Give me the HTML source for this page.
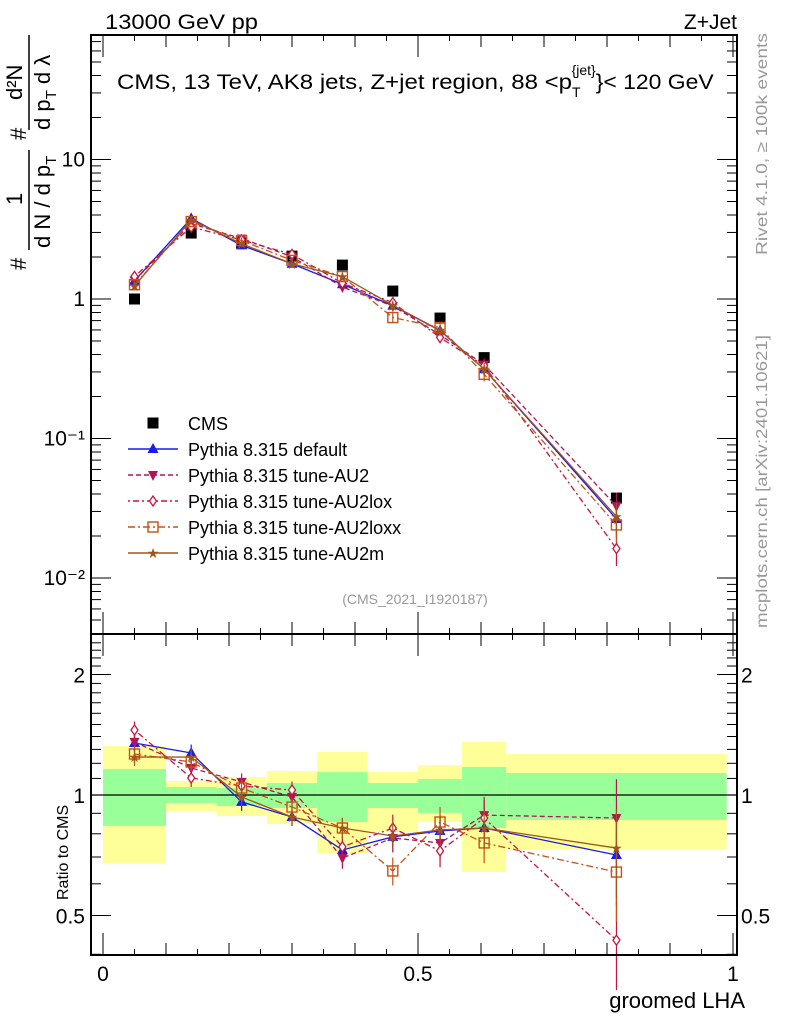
<!DOCTYPE html>
<html><head><meta charset="utf-8"><style>
body{margin:0;background:#fff;}
svg text{font-family:"Liberation Sans","DejaVu Sans",sans-serif;}
</style></head><body>
<svg id="c" width="786" height="1024" viewBox="0 0 786 1024" xmlns="http://www.w3.org/2000/svg">
<g id="bands"></g>
<g id="plot"></g>
<g id="axes"></g>
<text x="105" y="29" font-size="21" textLength="153" lengthAdjust="spacingAndGlyphs">13000 GeV pp</text>
<text x="737" y="29" font-size="21" text-anchor="end">Z+Jet</text>
<text x="117" y="89" font-size="21"><tspan textLength="455" lengthAdjust="spacingAndGlyphs">CMS, 13 TeV, AK8 jets, Z+jet region, 88 &lt;p</tspan><tspan font-size="14" dy="8">T</tspan><tspan font-size="14" dx="-9" dy="-22">{jet}</tspan><tspan dy="14" textLength="118" lengthAdjust="spacingAndGlyphs">}&lt; 120 GeV</tspan></text>
<text x="415" y="604" font-size="14" fill="#999" text-anchor="middle">(CMS_2021_I1920187)</text>
<text transform="translate(767,255) rotate(-90)" font-size="16" fill="#999" textLength="222" lengthAdjust="spacingAndGlyphs">Rivet 4.1.0, ≥ 100k events</text>
<text transform="translate(767,628) rotate(-90)" font-size="16" fill="#999" textLength="293" lengthAdjust="spacingAndGlyphs">mcplots.cern.ch [arXiv:2401.10621]</text>
<g font-size="22">
<text transform="translate(26,270) rotate(-90)">#</text>
<line x1="29" x2="29" y1="150" y2="250" stroke="#000" stroke-width="1.5"/>
<text transform="translate(22,205) rotate(-90)">1</text>
<text transform="translate(50,248) rotate(-90)">d N / d p<tspan font-size="15" dy="6">T</tspan></text>
<text transform="translate(26,140) rotate(-90)">#</text>
<line x1="29" x2="29" y1="35" y2="130" stroke="#000" stroke-width="1.5"/>
<text transform="translate(22,100) rotate(-90)">d²N</text>
<text transform="translate(50,130) rotate(-90)">d p<tspan font-size="15" dy="6">T</tspan><tspan dy="-6"> d λ</tspan></text>
</g>
<text transform="translate(68,900) rotate(-90)" font-size="16">Ratio to CMS</text>
<text x="745" y="1008" font-size="22" text-anchor="end">groomed LHA</text>
<g id="legend"></g>
</svg>
<script>
const edges=[0,0.1,0.18,0.26,0.34,0.42,0.5,0.57,0.64,0.99];
const centers=[0.05,0.14,0.22,0.30,0.38,0.46,0.535,0.605,0.815];
const cmsVals=[1.0,2.97,2.52,2.03,1.75,1.14,0.73,0.38,0.0374];
const band1Up=[1.161,1.047,1.041,1.071,1.141,1.071,1.096,1.175,1.135];
const band1Dn=[0.837,0.955,0.939,0.928,0.856,0.928,0.902,0.827,0.866];
const band2Up=[1.326,1.084,1.109,1.148,1.281,1.141,1.188,1.357,1.266];
const band2Dn=[0.676,0.912,0.886,0.846,0.716,0.808,0.856,0.642,0.733];
const rDefault=[1.349,1.273,0.961,0.881,0.729,0.786,0.813,0.827,0.708];
const rAU2=[1.357,1.168,1.078,0.989,0.696,0.781,0.759,0.891,0.876];
const rAU2lox=[1.453,1.103,1.053,1.029,0.742,0.827,0.725,0.876,0.434];
const rAU2loxx=[1.266,1.209,1.041,0.933,0.827,0.646,0.856,0.759,0.642];
const rAU2m=[1.244,1.244,0.989,0.881,0.827,0.790,0.818,0.827,0.737];
const relErr=[0.05,0.05,0.05,0.05,0.06,0.08,0.09,0.11,0.25];
const mainTicks=[10,1,0.1,0.01];
const mainTickLabels=["10","1","10⁻¹","10⁻²"];
const ratioTicks=[2,1,0.5];
const ratioTickLabels=["2","1","0.5"];
const xTicks=[0,0.5,1];
const xTickLabels=["0","0.5","1"];

const L=91,R=737,T=35,M=634,B=955;
const X=v=>103+630*v;
const YM=v=>299-139.5*Math.log10(v);
const YR=v=>795-120.5*Math.log2(v);
const NS="http://www.w3.org/2000/svg";
function mk(tag,attrs,parent){const e=document.createElementNS(NS,tag);for(const k in attrs)e.setAttribute(k,attrs[k]);parent.appendChild(e);return e;}
const bands=document.getElementById('bands'),plot=document.getElementById('plot'),axes=document.getElementById('axes'),leg=document.getElementById('legend');

for(let i=0;i<centers.length;i++){
  const x0=X(edges[i]),x1=X(edges[i+1]);
  let r=mk('rect',{x:x0,y:YR(band2Up[i]),width:x1-x0,height:YR(band2Dn[i])-YR(band2Up[i]),fill:'#ffff99'},bands);
  
  
  r=mk('rect',{x:x0,y:YR(band1Up[i]),width:x1-x0,height:YR(band1Dn[i])-YR(band1Up[i]),fill:'#99ff99'},bands);
  
  
}
mk('line',{x1:L,x2:R,y1:YR(1),y2:YR(1),stroke:'#000','stroke-width':1.2},plot);

const series=[
 {name:'Pythia 8.315 default',r:rDefault,c:'#1a1aee',dash:'',m:'tri'},
 {name:'Pythia 8.315 tune-AU2',r:rAU2,c:'#b0155a',dash:'5,3',m:'tridown'},
 {name:'Pythia 8.315 tune-AU2lox',r:rAU2lox,c:'#c8143c',dash:'2,3,6,3',m:'diamond'},
 {name:'Pythia 8.315 tune-AU2loxx',r:rAU2loxx,c:'#c85014',dash:'7,3,2,3',m:'square'},
 {name:'Pythia 8.315 tune-AU2m',r:rAU2m,c:'#a0561a',dash:'',m:'star'}
];
function marker(type,x,y,c,g){
  let e;
  if(type==='tri')e=mk('polygon',{points:`${x},${y-6} ${x-5.5},${y+4} ${x+5.5},${y+4}`,fill:c},g);
  else if(type==='tridown')e=mk('polygon',{points:`${x},${y+6} ${x-5},${y-4} ${x+5},${y-4}`,fill:c},g);
  else if(type==='diamond')e=mk('polygon',{points:`${x},${y-5} ${x-3.5},${y} ${x},${y+5} ${x+3.5},${y}`,fill:'#fff',stroke:c,'stroke-width':1.3},g);
  else if(type==='square')e=mk('rect',{x:x-5,y:y-5,width:10,height:10,fill:'none',stroke:c,'stroke-width':1.4},g);
  else if(type==='star')e=mk('text',{x:x,y:y+5,'font-size':14,'text-anchor':'middle',fill:c},g),e.textContent='★';
  else if(type==='sq')e=mk('rect',{x:x-5.5,y:y-5.5,width:11,height:11,fill:'#000'},g);
  return e;
}
for(let i=0;i<centers.length;i++){
  const p=marker('sq',X(centers[i]),YM(cmsVals[i]),'#000',plot);
  
  
}
series.forEach((s,si)=>{
  const g=mk('g',{},plot);
  
  
  const pm=[],pr=[];
  for(let i=0;i<centers.length;i++){
    const v=s.r[i]*cmsVals[i];
    pm.push(X(centers[i])+','+YM(v));pr.push(X(centers[i])+','+YR(s.r[i]));
  }
  const a={fill:'none',stroke:s.c,'stroke-width':1.3};if(s.dash)a['stroke-dasharray']=s.dash;
  let l=mk('polyline',Object.assign({points:pm.join(' ')},a),g);
  
  
  l=mk('polyline',Object.assign({points:pr.join(' ')},a),g);
  
  
  for(let i=0;i<centers.length;i++){
    const x=X(centers[i]);const v=s.r[i]*cmsVals[i];const e=relErr[i];
    mk('line',{x1:x,x2:x,y1:YM(v*(1+e)),y2:YM(v*(1-e)),stroke:s.c,'stroke-width':1.2},g);
    mk('line',{x1:x,x2:x,y1:YR(s.r[i]*(1+e)),y2:YR(s.r[i]*(1-e)),stroke:s.c,'stroke-width':1.2},g);
    let p=marker(s.m,x,YM(v),s.c,g);
    
    
    p=marker(s.m,x,YR(s.r[i]),s.c,g);
    
    
  }
});
mk('rect',{x:L,y:T,width:R-L,height:M-T,fill:'none',stroke:'#000','stroke-width':2},axes);
mk('rect',{x:L,y:M,width:R-L,height:B-M,fill:'none',stroke:'#000','stroke-width':2},axes);
for(let d=-3;d<=1;d++)for(let k=1;k<10;k++){
  const v=k*Math.pow(10,d);const y=YM(v);if(y<T||y>M)continue;
  const len=k===1?20:10;
  mk('line',{x1:L,x2:L+len,y1:y,y2:y,stroke:'#000','stroke-width':1},axes);
  mk('line',{x1:R,x2:R-len,y1:y,y2:y,stroke:'#000','stroke-width':1},axes);
}
mainTicks.forEach((v,i)=>{const t=mk('text',{x:L-6,y:YM(v)+7,'font-size':21,'text-anchor':'end'},axes);t.textContent=mainTickLabels[i];
  
  });
for(let v=0.4;v<=2.5;v+=0.1){
  const y=YR(v);if(y<M||y>B)continue;
  const major=Math.abs(v-0.5)<1e-6||Math.abs(v-1)<1e-6||Math.abs(v-2)<1e-6;
  const len=major?20:10;
  mk('line',{x1:L,x2:L+len,y1:y,y2:y,stroke:'#000','stroke-width':1},axes);
  mk('line',{x1:R,x2:R-len,y1:y,y2:y,stroke:'#000','stroke-width':1},axes);
}
ratioTicks.forEach((v,i)=>{
  let t=mk('text',{x:L-6,y:YR(v)+8,'font-size':21,'text-anchor':'end'},axes);t.textContent=ratioTickLabels[i];
  
  
  t=mk('text',{x:R+4,y:YR(v)+8,'font-size':21},axes);t.textContent=ratioTickLabels[i];
  
  
});
for(let v=0;v<=1.0001;v+=0.05){
  const x=X(v);const major=Math.abs(v%0.5)<1e-6||Math.abs(v-1)<1e-6||Math.abs(v-0.5)<1e-6;
  const minor=Math.abs((v*10)-Math.round(v*10))<1e-6;
  const len=major?22:(minor?12:6);
  mk('line',{x1:x,x2:x,y1:M,y2:M-len,stroke:'#000'},axes);
  mk('line',{x1:x,x2:x,y1:T,y2:T+len,stroke:'#000'},axes);
  mk('line',{x1:x,x2:x,y1:M,y2:M+len,stroke:'#000'},axes);
  mk('line',{x1:x,x2:x,y1:B,y2:B-len,stroke:'#000'},axes);
}
xTicks.forEach((v,i)=>{const t=mk('text',{x:X(v),y:981,'font-size':21,'text-anchor':'middle'},axes);t.textContent=xTickLabels[i];
  
  });
const ly0=423,ldy=26;
marker('sq',153,ly0,'#000',leg);
let t=mk('text',{x:188,y:ly0+7,'font-size':18},leg);t.textContent='CMS';


series.forEach((s,i)=>{
  const y=ly0+ldy*(i+1);
  const a={x1:128,x2:178,y1:y,y2:y,stroke:s.c,'stroke-width':1.4};if(s.dash)a['stroke-dasharray']=s.dash;
  mk('line',a,leg);marker(s.m,153,y,s.c,leg);
  const tt=mk('text',{x:188,y:y+7,'font-size':18},leg);tt.textContent=s.name;
  
  
});
</script>
</body></html>
